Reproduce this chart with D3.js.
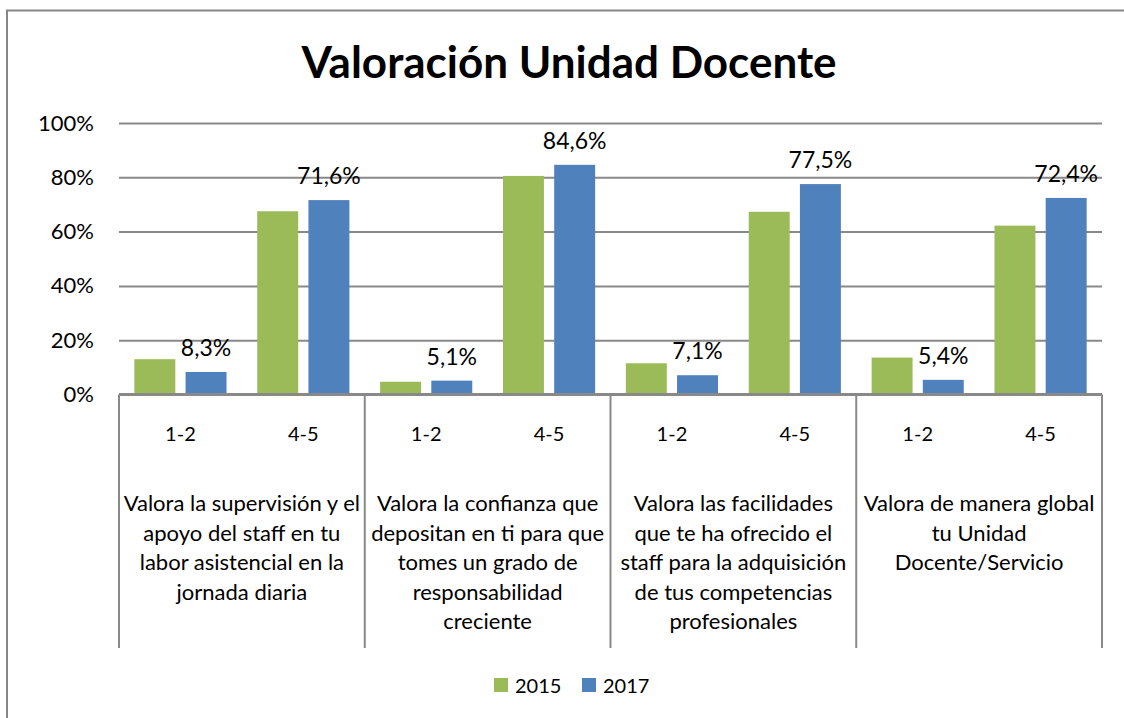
<!DOCTYPE html>
<html>
<head>
<meta charset="utf-8">
<script src="https://cdn.jsdelivr.net/npm/d3@7"></script>
<style>
  body { margin: 0; background: #fff; }
  svg text { font-family: Lato, "Open Sans", sans-serif; fill: #000; }
</style>
</head>
<body>
<script>
// data
const categoryLines = [
  ['Valora la supervisión y el', 'apoyo del staff en tu', 'labor asistencial en la', 'jornada diaria'],
  ['Valora la confianza que', 'depositan en ti para que', 'tomes un grado de', 'responsabilidad', 'creciente'],
  ['Valora las facilidades', 'que te ha ofrecido el', 'staff para la adquisición', 'de tus competencias', 'profesionales'],
  ['Valora de manera global', 'tu Unidad', 'Docente/Servicio']
];
const subgroups = ['1-2', '4-5'];
const series = ['2015', '2017'];
// one value per category x subgroup, in order
const values2015 = [13.0, 67.5, 4.7, 80.5, 11.5, 67.3, 13.6, 62.2];
const values2017 = [8.3, 71.6, 5.1, 84.6, 7.1, 77.5, 5.4, 72.4];
const yTicks = [0, 20, 40, 60, 80, 100];
const colors = ['#9bbb59', '#4f81bd'];

const W = 1124, H = 718;
const plot = { left: 119, right: 1102, top: 123, bottom: 394.5 };

const svg = d3.select('body').append('svg')
  .attr('width', W)
  .attr('height', H);

// outer frame (right / bottom edges fall outside the picture)
svg.append('rect')
  .attr('x', 7).attr('y', 10.5)
  .attr('width', W + 20).attr('height', H + 20)
  .attr('fill', 'none')
  .attr('stroke', '#878787')
  .attr('stroke-width', 2);

svg.append('text')
  .attr('x', 569).attr('y', 78)
  .attr('text-anchor', 'middle')
  .style('font-weight', 'bold')
  .style('font-size', '44px')
  .text('Valoración Unidad Docente');

const ids = categoryLines.map((d, i) => i);

const x0 = d3.scaleBand().domain(ids).range([plot.left, plot.right]);
const x1 = d3.scaleBand().domain(subgroups).range([0, x0.bandwidth()]);
const x2 = d3.scaleBand().domain(series).range([0, x1.bandwidth()])
  .paddingInner(0.2).paddingOuter(0.3);
const y = d3.scaleLinear().domain([0, 100]).range([plot.bottom, plot.top]);

const comma = d3.formatLocale({ decimal: ',', thousands: '.', grouping: [3], currency: ['', '€'] });
const pct = v => comma.format('.1f')(v) + '%';

// y axis + gridlines
const yAxis = svg.append('g')
  .attr('transform', `translate(${plot.left},0)`)
  .call(d3.axisLeft(y)
    .tickValues(yTicks)
    .tickSize(-(plot.right - plot.left))
    .tickPadding(25)
    .tickFormat(d => d + '%'));
yAxis.select('.domain').remove();
yAxis.selectAll('.tick line').attr('stroke', '#898989').attr('stroke-width', 2);
yAxis.selectAll('.tick text').style('font-size', '22px').attr('fill', '#000');

// bars
const rows = [];
ids.forEach(c => subgroups.forEach((s, j) => {
  const k = c * subgroups.length + j;
  rows.push({ c, s, key: '2015', v: values2015[k] });
  rows.push({ c, s, key: '2017', v: values2017[k] });
}));

const bx = d => x0(d.c) + x1(d.s) + x2(d.key);

svg.append('g').selectAll('rect')
  .data(rows)
  .join('rect')
  .attr('x', bx)
  .attr('y', d => y(d.v))
  .attr('width', x2.bandwidth())
  .attr('height', d => y(0) - y(d.v))
  .attr('fill', d => colors[series.indexOf(d.key)]);

// labels on 2017 bars only
svg.append('g').selectAll('text')
  .data(rows.filter(d => d.key === '2017'))
  .join('text')
  .attr('x', d => bx(d) + x2.bandwidth() / 2)
  .attr('y', d => y(d.v) - 25)
  .attr('text-anchor', 'middle')
  .attr('dominant-baseline', 'central')
  .style('font-size', '23px')
  .text(d => pct(d.v));

// baseline
svg.append('line')
  .attr('x1', plot.left).attr('x2', plot.right)
  .attr('y1', y(0)).attr('y2', y(0))
  .attr('stroke', '#898989').attr('stroke-width', 3);

// category dividers
const bounds = ids.map(c => x0(c)).concat([plot.right]);
svg.append('g').selectAll('line')
  .data(bounds)
  .join('line')
  .attr('x1', d => d).attr('x2', d => d)
  .attr('y1', y(0)).attr('y2', 648)
  .attr('stroke', '#898989').attr('stroke-width', 2);

// subgroup labels
const subRows = [];
ids.forEach(c => subgroups.forEach(s => subRows.push({ c, s })));
svg.append('g').selectAll('text')
  .data(subRows)
  .join('text')
  .attr('x', d => x0(d.c) + x1(d.s) + x1.bandwidth() / 2)
  .attr('y', 433)
  .attr('text-anchor', 'middle')
  .attr('dominant-baseline', 'central')
  .style('font-size', '20px')
  .text(d => d.s);

// category labels
const cat = svg.append('g').selectAll('text')
  .data(ids)
  .join('text')
  .attr('x', c => x0(c) + x0.bandwidth() / 2)
  .attr('y', 502)
  .attr('text-anchor', 'middle')
  .attr('dominant-baseline', 'central')
  .style('font-size', '22px');
cat.selectAll('tspan')
  .data(c => categoryLines[c].map(t => ({ t, c })))
  .join('tspan')
  .attr('x', d => x0(d.c) + x0.bandwidth() / 2)
  .attr('dy', (d, i) => i === 0 ? 0 : 29.5)
  .text(d => d.t);

// legend
const legend = svg.append('g');
const lx = [494, 582];
series.forEach((s, i) => {
  legend.append('rect')
    .attr('x', lx[i]).attr('y', 678)
    .attr('width', 14).attr('height', 14)
    .attr('fill', colors[i]);
  legend.append('text')
    .attr('x', lx[i] + 21).attr('y', 685)
    .attr('dominant-baseline', 'central')
    .style('font-size', '20px')
    .text(s);
});
</script>
</body>
</html>
